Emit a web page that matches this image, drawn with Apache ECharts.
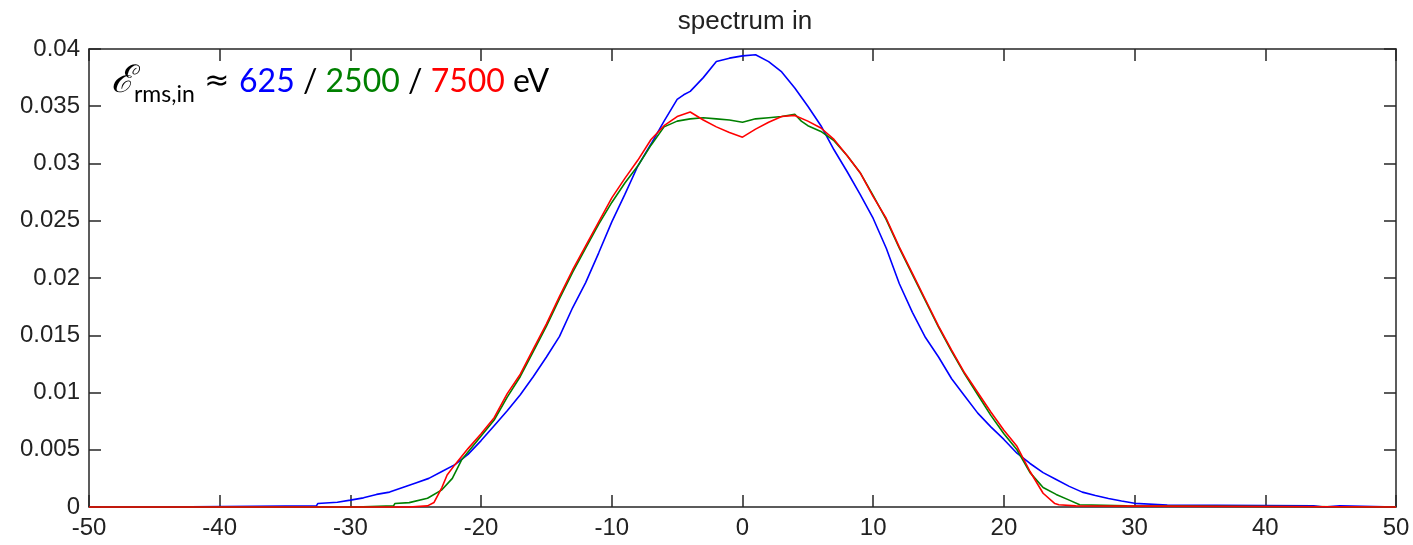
<!DOCTYPE html>
<html>
<head>
<meta charset="utf-8">
<title>spectrum in</title>
<script src="https://cdn.jsdelivr.net/npm/echarts@6/dist/echarts.min.js"></script>
<style>
  html, body { margin: 0; padding: 0; background: #fff; }
  #chart { width: 1413px; height: 545px; }
</style>
</head>
<body>
<div id="chart"></div>
<script>
// Input energy spectra for three rms energy spreads (625 / 2500 / 7500 eV)
const xTicks = [-50, -40, -30, -20, -10, 0, 10, 20, 30, 40, 50];
const yTicks = [0, 0.005, 0.01, 0.015, 0.02, 0.025, 0.03, 0.035, 0.04];

// 625 eV spectrum (blue)
const blueX = [-50, -44.6, -44.5, -32.6, -32.5, -31, -30, -29, -28, -27, -26, -25, -24, -23, -22,
  -21, -20, -19, -18, -17, -16, -15, -14, -13, -12, -11, -10, -9, -8, -7, -6, -5, -4.5, -4,
  -3, -2, -1, 0, 1, 2, 3, 4, 5, 6, 7, 8, 9, 10, 11, 12, 13, 14, 15, 16, 17, 18, 19, 20,
  21, 22, 23, 24, 25, 26, 27, 28, 29, 30, 32.5, 32.6, 43.7, 43.8, 44.5, 44.6, 45.7, 45.8, 50];
const blueY = [0, 0, 0.0001, 0.0001, 0.0003, 0.00042, 0.0006, 0.0008, 0.0011, 0.0013, 0.0017, 0.0021, 0.0025, 0.0031, 0.0037,
  0.0046, 0.0058, 0.0071, 0.0084, 0.0098, 0.0114, 0.0131, 0.0149, 0.0174, 0.0196, 0.0222, 0.0249, 0.0273, 0.0298, 0.0317, 0.0337, 0.0356, 0.0360, 0.0363,
  0.0375, 0.0389, 0.0392, 0.0394, 0.0395, 0.0389, 0.0380, 0.0366, 0.0350, 0.0333, 0.0312, 0.0293, 0.0273, 0.0252, 0.0226, 0.0195, 0.0170, 0.0148, 0.0131, 0.0112, 0.0097, 0.0082, 0.0070, 0.0059,
  0.0047, 0.0038, 0.0030, 0.0024, 0.0018, 0.0013, 0.0010, 0.00075, 0.00052, 0.00032, 0.00018, 0.0001, 0.0001, 0, 0, 0.0001, 0.0001, 0, 0];

// 2500 eV spectrum (green)
const greenX = [-50, -29.6, -29.5, -26.7, -26.6, -25.5, -24.1, -23, -22.2, -21.5, -20, -19, -18, -17, -16, -15,
  -14, -13, -12, -11, -10, -9, -8, -7, -6, -5, -4, -3, -2, -1, 0, 1, 2, 3, 4, 4.5, 5, 6, 7, 8, 9, 10,
  11, 12, 13, 14, 15, 16, 17, 18, 19, 20, 21, 22, 23, 24, 25, 25.8, 29.4, 29.5, 50];
const greenY = [0, 0, 0.0001, 0.0001, 0.0003, 0.00038, 0.00076, 0.0015, 0.0025, 0.0041, 0.0062, 0.0076, 0.0096, 0.0114, 0.0136, 0.0158,
  0.0182, 0.0205, 0.0226, 0.0247, 0.0266, 0.0283, 0.0298, 0.0316, 0.0332, 0.0337, 0.0339, 0.0340, 0.0339, 0.0338, 0.0336, 0.0339, 0.0340, 0.0341, 0.0343, 0.0337, 0.0333, 0.0328, 0.0320, 0.0307, 0.0292, 0.0272,
  0.0251, 0.0226, 0.0203, 0.0180, 0.0157, 0.0136, 0.0116, 0.0098, 0.0080, 0.0064, 0.0050, 0.0030, 0.0017, 0.0011, 0.0006, 0.0002, 0.0001, 0, 0];

// 7500 eV spectrum (red)
const redX = [-50, -25.5, -25.4, -24.1, -23.6, -23, -22.6, -22, -21, -20, -19, -18, -17, -16, -15, -14, -13, -12, -11,
  -10, -9, -8, -7, -6, -5, -4, -3, -2, -1, 0, 1, 2, 3, 4, 5, 6, 7, 8, 9, 10, 11, 12, 13, 14, 15, 16,
  17, 18, 19, 20, 21, 22, 23, 23.9, 24.2, 25.5, 25.6, 50];
const redY = [0, 0, 0.0001, 0.0001, 0.0004, 0.0017, 0.0028, 0.0037, 0.0051, 0.0064, 0.0078, 0.0099, 0.0116, 0.0138, 0.0160, 0.0184, 0.0207, 0.0228, 0.0249,
  0.0270, 0.0287, 0.0303, 0.0321, 0.0333, 0.0341, 0.0345, 0.0338, 0.0332, 0.0327, 0.0323, 0.0330, 0.0336, 0.0341, 0.0342, 0.0337, 0.0331, 0.0321, 0.0307, 0.0292, 0.0271, 0.0252, 0.0227, 0.0204, 0.0181, 0.0158, 0.0137,
  0.0117, 0.0100, 0.0083, 0.0067, 0.0053, 0.0031, 0.0012, 0.0003, 0.0002, 0.0001, 0, 0];

const zip = (xs, ys) => xs.map((x, i) => [x, ys[i]]);

const AXIS_COLOR = '#262626';
const LABEL_FONT = 'Liberation Sans, Arial, sans-serif';
const tickFmt = v => String(+Number(v).toFixed(3));

const boxAxis = {
  axisLine: { show: true, onZero: false, lineStyle: { color: AXIS_COLOR, width: 1.5 } },
  axisTick: { show: true, inside: true, length: 12, lineStyle: { color: AXIS_COLOR, width: 1.5 } },
  splitLine: { show: false }
};

const chart = echarts.init(document.getElementById('chart'), null, { renderer: 'canvas' });

const lineSeries = (name, data, color) => ({
  name, type: 'line', data, showSymbol: false, symbol: 'none', clip: false,
  lineStyle: { color, width: 1.6 }, itemStyle: { color },
  animation: false, z: 3
});

chart.setOption({
  animation: false,
  backgroundColor: '#fff',
  title: {
    text: 'spectrum in',
    left: 740, top: 4, textAlign: 'center',
    textStyle: { fontFamily: LABEL_FONT, fontSize: 26, fontWeight: 'normal', color: '#222' }
  },
  grid: { left: 89, right: 17, top: 49, bottom: 38, containLabel: false },
  xAxis: [
    Object.assign({
      type: 'value', position: 'bottom', min: xTicks[0], max: xTicks[xTicks.length - 1], interval: 10,
      axisLabel: { show: true, margin: 9, fontFamily: LABEL_FONT, fontSize: 24, color: '#222' }
    }, boxAxis),
    Object.assign({
      type: 'value', position: 'top', min: xTicks[0], max: xTicks[xTicks.length - 1], interval: 10,
      axisLabel: { show: false }
    }, boxAxis)
  ],
  yAxis: [
    Object.assign({
      type: 'value', position: 'left', min: yTicks[0], max: yTicks[yTicks.length - 1], interval: 0.005,
      axisLabel: { show: true, margin: 9, fontFamily: LABEL_FONT, fontSize: 24, color: '#222', formatter: tickFmt }
    }, boxAxis),
    Object.assign({
      type: 'value', position: 'right', min: yTicks[0], max: yTicks[yTicks.length - 1], interval: 0.005,
      axisLabel: { show: false }
    }, boxAxis)
  ],
  series: [
    lineSeries('625 eV', zip(blueX, blueY), '#0000ff'),
    lineSeries('2500 eV', zip(greenX, greenY), '#008000'),
    lineSeries('7500 eV', zip(redX, redY), '#ff0000')
  ],
  graphic: [{
    type: 'text', left: 111, top: 63, z: 10,
    style: {
      text: '{e|ℰ}{s|rms,in}{a| ≈ }{b|625}{t| / }{g|2500}{t| / }{r|7500}{t| eV}',
      rich: {
        e: { fontFamily: 'DejaVu Serif', fontStyle: 'italic', fontSize: 38, lineHeight: 48, fill: '#000', color: '#000' },
        s: { fontFamily: 'Lato', fontSize: 23, lineHeight: 22, verticalAlign: 'bottom', fill: '#000', color: '#000' },
        a: { fontFamily: 'DejaVu Sans', fontSize: 30, lineHeight: 48, fill: '#000', color: '#000' },
        t: { fontFamily: 'Lato', fontSize: 32, lineHeight: 48, fill: '#000', color: '#000' },
        b: { fontFamily: 'Lato', fontSize: 32, lineHeight: 48, fill: '#0000ff', color: '#0000ff' },
        g: { fontFamily: 'Lato', fontSize: 32, lineHeight: 48, fill: '#008000', color: '#008000' },
        r: { fontFamily: 'Lato', fontSize: 32, lineHeight: 48, fill: '#ff0000', color: '#ff0000' }
      }
    }
  }]
});
</script>
</body>
</html>
